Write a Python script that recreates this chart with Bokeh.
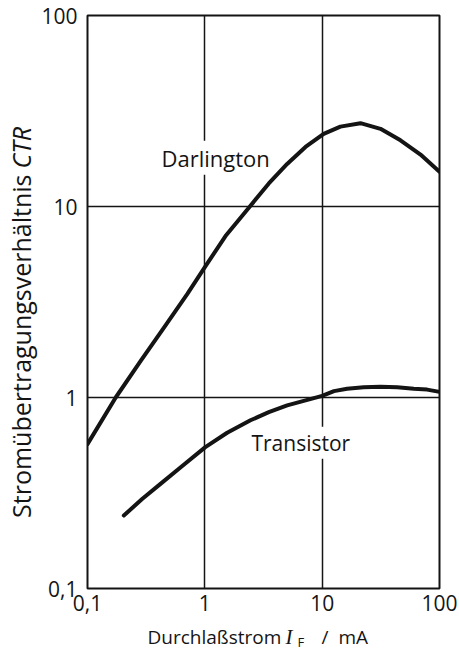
import math

from bokeh.core.properties import value
from bokeh.embed import file_html
from bokeh.layouts import column, row
from bokeh.models import FixedTicker, Label, Range1d
from bokeh.plotting import figure
from bokeh.resources import INLINE

# Forward current I_F in mA and current transfer ratio CTR
darlington_if = [0.1, 0.174, 0.285, 0.45, 0.71, 1.02, 1.5, 2.45, 3.51, 5.03, 7.21, 10.3,
                 14.3, 21.2, 31.4, 46.5, 68.9, 100]
darlington_ctr = [0.57, 1.0, 1.56, 2.33, 3.49, 4.9, 7.0, 10.1, 13.2, 16.7, 20.5, 24.0,
                  26.2, 27.3, 25.5, 22.2, 18.7, 15.2]

transistor_if = [0.204, 0.292, 0.419, 0.642, 1.01, 1.55, 2.45, 3.51, 5.03, 10.0, 12.6,
                 16.3, 22.6, 31.4, 43.6, 60.4, 78.5, 100]
transistor_ctr = [0.241, 0.294, 0.353, 0.438, 0.55, 0.654, 0.76, 0.838, 0.91, 1.02, 1.08,
                  1.11, 1.13, 1.14, 1.13, 1.11, 1.10, 1.07]

tick_values = [0.1, 1, 10, 100]
tick_labels = ["0,1", "1", "10", "100"]

# curve names and where their captions sit (left edge, vertical middle), in data units
curve_names = ["Darlington", "Transistor"]
caption_pos = [(0.411, 18.0), (2.40, 0.58)]
caption_size = ["22px", "21px"]

FONT = "Open Sans"
INK = "#141414"
W, H = 459, 649
LEFT_W = 38                     # strip holding the vertical axis title
BOTTOM_H = 26                   # strip holding the horizontal axis title
TOP_H = H - BOTTOM_H
BORDER_TOP, BORDER_BOTTOM = 15, 35

p = figure(
    width=W - LEFT_W, height=TOP_H, title=None,
    x_axis_type="log", y_axis_type="log",
    x_range=Range1d(0.1, 100), y_range=Range1d(0.1, 100),
    output_backend="svg", toolbar_location=None,
    min_border_left=49, min_border_right=20,
    min_border_top=BORDER_TOP, min_border_bottom=BORDER_BOTTOM,
)
p.background_fill_color = "white"
p.border_fill_color = "white"
p.outline_line_color = INK
p.outline_line_width = 2

overrides = {v: t for v, t in zip(tick_values, tick_labels)}
for ax, standoff in ((p.xaxis[0], 6), (p.yaxis[0], 10)):
    ax.ticker = FixedTicker(ticks=tick_values, minor_ticks=[])
    ax.major_label_overrides = overrides
    ax.axis_line_color = None
    ax.major_tick_line_color = None
    ax.minor_tick_line_color = None
    ax.major_tick_out = 0
    ax.major_tick_in = 0
    ax.minor_tick_out = 0
    ax.minor_tick_in = 0
    ax.major_label_text_font = FONT
    ax.major_label_text_font_size = "21px"
    ax.major_label_text_color = INK
    ax.major_label_standoff = standoff

for g in (p.xgrid[0], p.ygrid[0]):
    g.ticker = FixedTicker(ticks=tick_values, minor_ticks=[])
    g.grid_line_color = INK
    g.grid_line_width = 1.5

p.line(darlington_if, darlington_ctr, line_color=INK, line_width=4, line_cap="round", line_join="round")
p.line(transistor_if, transistor_ctr, line_color=INK, line_width=4, line_cap="round", line_join="round")

for name, (cx, cy), size in zip(curve_names, caption_pos, caption_size):
    p.add_layout(Label(
        x=cx, y=cy, text=name, text_font=FONT, text_font_size=size, text_color=INK,
        text_align="left", text_baseline="middle",
        background_fill_color="white", padding=2,
    ))


def strip(width, height, x_span, y_span):
    """A bare plot whose data units are page pixels, for the axis titles."""
    s = figure(width=width, height=height, title=None,
               x_range=Range1d(*x_span), y_range=Range1d(*y_span),
               x_axis_location=None, y_axis_location=None, output_backend="svg",
               toolbar_location=None, min_border=0,
               min_border_left=0, min_border_right=0, min_border_top=0, min_border_bottom=0)
    s.outline_line_color = None
    s.background_fill_color = "white"
    s.border_fill_color = "white"
    s.grid.visible = False
    return s


# vertical title, reading upwards; its plot area lines up with the chart's frame
left = strip(LEFT_W, TOP_H, (0, LEFT_W), (TOP_H - BORDER_BOTTOM, BORDER_TOP))
left.text(x=[20], y=[174], text=["Stromübertragungsverhältnis"], angle=math.pi / 2,
          text_font=value(FONT), text_font_size="25px", text_color=INK,
          text_align="right", text_baseline="middle")
left.text(x=[20], y=[168], text=["CTR"], angle=math.pi / 2,
          text_font=value(FONT), text_font_style="italic", text_font_size="25px", text_color=INK,
          text_align="left", text_baseline="middle")

# horizontal title with italic symbol and subscript
bottom = strip(W, BOTTOM_H, (0, W), (H, TOP_H))
bottom.text(x=[147], y=[636], text=["Durchlaßstrom"], text_font=value(FONT),
            text_font_size="19px", text_color=INK, text_align="left", text_baseline="middle")
bottom.text(x=[285], y=[636], text=["I"], text_font=value("Liberation Serif"), text_font_style="italic",
            text_font_size="21px", text_color=INK, text_align="left", text_baseline="middle")
bottom.text(x=[297], y=[641], text=["F"], text_font=value(FONT),
            text_font_size="13px", text_color=INK, text_align="left", text_baseline="middle")
bottom.text(x=[321], y=[636], text=["/"], text_font=value(FONT),
            text_font_size="19px", text_color=INK, text_align="left", text_baseline="middle")
bottom.text(x=[338], y=[636], text=["mA"], text_font=value(FONT),
            text_font_size="19px", text_color=INK, text_align="left", text_baseline="middle")

layout = column(row(left, p, spacing=0), bottom, spacing=0)
open("out.html", "w").write(file_html(layout, INLINE))
